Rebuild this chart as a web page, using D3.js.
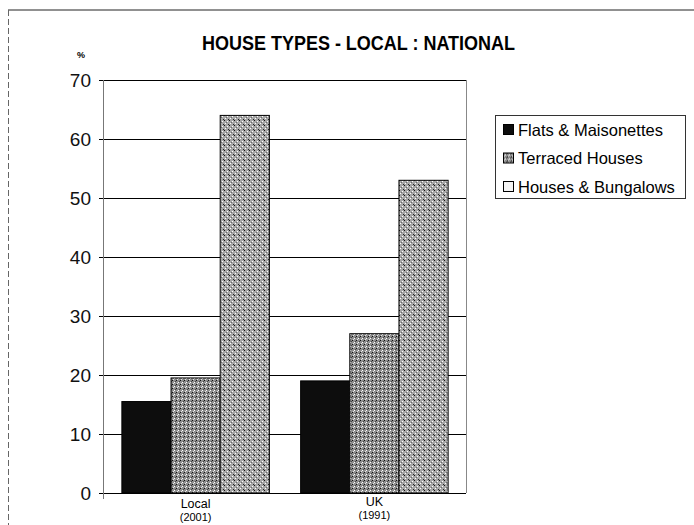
<!DOCTYPE html>
<html>
<head>
<meta charset="utf-8">
<script src="https://cdn.jsdelivr.net/npm/d3@7"></script>
<style>
  body { margin: 0; background: #fff; }
  text { font-family: "Liberation Sans", Arial, sans-serif; }
</style>
</head>
<body>
<div id="chart"></div>
<script>
// chart values
var categories = ["Local", "UK"];
var years = ["(2001)", "(1991)"];
var seriesNames = ["Flats & Maisonettes", "Terraced Houses", "Houses & Bungalows"];
var flats = [15.5, 19];
var terraced = [19.5, 27];
var houses = [64, 53];
var yTicks = [0, 10, 20, 30, 40, 50, 60, 70];

var W = 694, H = 525;
var margin = {top: 80, right: 228, bottom: 32, left: 104}
  , width = W - margin.left - margin.right
  , height = H - margin.top - margin.bottom;

var svg = d3.select("#chart").append("svg")
    .attr("width", W)
    .attr("height", H);

// fill patterns to stand in for the printed textures
var defs = svg.append("defs");
var p1 = defs.append("pattern").attr("id", "terr")
    .attr("width", 4).attr("height", 4).attr("patternUnits", "userSpaceOnUse");
p1.append("rect").attr("width", 4).attr("height", 4).attr("fill", "#8e8e8e");
p1.append("rect").attr("x", 0).attr("y", 0).attr("width", 1).attr("height", 1).attr("fill", "#111");
p1.append("rect").attr("x", 2).attr("y", 2).attr("width", 1).attr("height", 1).attr("fill", "#fff");
p1.append("rect").attr("x", 3).attr("y", 1).attr("width", 1).attr("height", 1).attr("fill", "#444");
p1.append("rect").attr("x", 1).attr("y", 3).attr("width", 1).attr("height", 1).attr("fill", "#e6e6e6");

var p2 = defs.append("pattern").attr("id", "hous")
    .attr("width", 5).attr("height", 5).attr("patternUnits", "userSpaceOnUse");
p2.append("rect").attr("width", 5).attr("height", 5).attr("fill", "#a8a8a8");
p2.append("rect").attr("x", 0).attr("y", 0).attr("width", 1).attr("height", 1).attr("fill", "#111");
p2.append("rect").attr("x", 3).attr("y", 1).attr("width", 1).attr("height", 1).attr("fill", "#fff");
p2.append("rect").attr("x", 1).attr("y", 3).attr("width", 1).attr("height", 1).attr("fill", "#fff");
p2.append("rect").attr("x", 4).attr("y", 4).attr("width", 1).attr("height", 1).attr("fill", "#222");
p2.append("rect").attr("x", 2).attr("y", 2).attr("width", 1).attr("height", 1).attr("fill", "#6a6a6a");

var fills = ["#0d0d0d", "url(#terr)", "url(#hous)"];

// page frame from the scan
svg.append("line").attr("x1", 8).attr("x2", W).attr("y1", 10).attr("y2", 10)
    .attr("stroke", "#222").attr("stroke-width", 1);
svg.append("line").attr("x1", 8.5).attr("x2", 8.5).attr("y1", 10).attr("y2", H)
    .attr("stroke", "#666").attr("stroke-width", 1).attr("stroke-dasharray", "6,3");

svg.append("text")
    .attr("x", 202).attr("y", 50)
    .attr("font-size", 20)
    .attr("font-weight", "bold")
    .attr("textLength", 313)
    .attr("lengthAdjust", "spacingAndGlyphs")
    .text("HOUSE TYPES - LOCAL : NATIONAL");

svg.append("text")
    .attr("x", 77).attr("y", 58)
    .attr("font-size", 9)
    .attr("font-weight", "bold")
    .text("%");

var g = svg.append("g")
    .attr("transform", "translate(" + margin.left + "," + margin.top + ")");

var x0 = d3.scaleBand().domain(categories).range([0, width]).paddingInner(0.175).paddingOuter(0.1);
var x1 = d3.scaleBand().domain(d3.range(3)).range([0, x0.bandwidth()]);
var y = d3.scaleLinear().domain([0, 70]).range([height, 0]);

// gridlines
g.append("g")
    .selectAll("line")
    .data(yTicks)
  .enter().append("line")
    .attr("x1", -5).attr("x2", width)
    .attr("y1", function(d) { return Math.round(y(d)) + 0.5; })
    .attr("y2", function(d) { return Math.round(y(d)) + 0.5; })
    .attr("stroke", "#000").attr("stroke-width", 1.2);

// plot frame sides
g.append("line").attr("x1", -0.5).attr("x2", -0.5).attr("y1", 0).attr("y2", height + 6)
    .attr("stroke", "#777");
g.append("line").attr("x1", width + 0.5).attr("x2", width + 0.5).attr("y1", 0).attr("y2", height)
    .attr("stroke", "#888");

var yAxis = g.append("g")
    .call(d3.axisLeft(y).tickValues(yTicks).tickSize(0).tickPadding(13));
yAxis.select(".domain").remove();
yAxis.selectAll("text")
    .attr("font-family", "Liberation Sans, Arial, sans-serif")
    .attr("font-size", 19)
    .attr("fill", "#111");

var seriesVals = [flats, terraced, houses];
seriesVals.forEach(function(vals, s) {
  g.selectAll(".bar" + s)
      .data(vals)
    .enter().append("rect")
      .attr("class", "bar" + s)
      .attr("x", function(d, i) { return x0(categories[i]) + x1(s); })
      .attr("y", function(d) { return y(d); })
      .attr("width", x1.bandwidth())
      .attr("height", function(d) { return height - y(d); })
      .attr("fill", fills[s])
      .attr("stroke", "#000")
      .attr("stroke-width", 1);
});

// category labels, the second one sits a little higher in the scan
var labelY = [15, 13];
var xl = g.append("g").attr("transform", "translate(0," + height + ")");
categories.forEach(function(c, i) {
  var cx = x0(c) + x0.bandwidth() / 2;
  xl.append("text").attr("x", cx).attr("y", labelY[i])
      .attr("text-anchor", "middle").attr("font-size", 12.5).text(c);
  xl.append("text").attr("x", cx).attr("y", labelY[i] + 13)
      .attr("text-anchor", "middle").attr("font-size", 11).text(years[i]);
});

// legend
var lg = svg.append("g").attr("transform", "translate(495,115)");
lg.append("rect").attr("x", 0.5).attr("y", 0.5).attr("width", 190).attr("height", 83)
    .attr("fill", "#fff").attr("stroke", "#333");
seriesNames.forEach(function(name, i) {
  var row = lg.append("g").attr("transform", "translate(8," + (9 + i * 28.5) + ")");
  row.append("rect").attr("x", 0.5).attr("y", 0.5).attr("width", 10).attr("height", 10)
      .attr("fill", i == 2 ? "#f4f4f4" : fills[i]).attr("stroke", "#000");
  row.append("text").attr("x", 15).attr("y", 11.5)
      .attr("font-size", 16.5).text(name);
});
</script>
</body>
</html>
